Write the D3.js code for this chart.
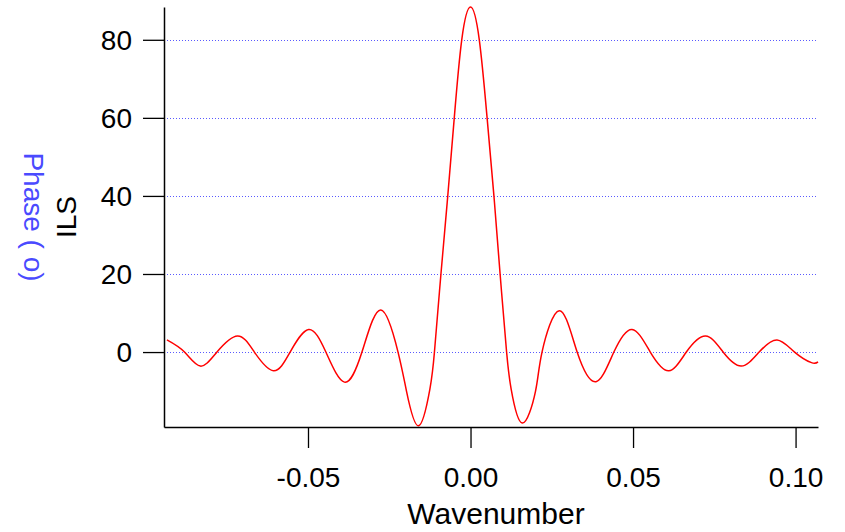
<!DOCTYPE html>
<html>
<head>
<meta charset="utf-8">
<script src="https://cdn.jsdelivr.net/npm/d3@7"></script>
<style>
  html, body { margin: 0; padding: 0; background: #fff; }
  svg { display: block; font-family: "Liberation Sans", Arial, sans-serif; }
</style>
</head>
<body>
<svg id="chart" width="845" height="532"></svg>
<script>
// ---- data ----
const wavenumber = [
  -0.0934, -0.0880, -0.0831, -0.0780, -0.0717, -0.0665, -0.0606, -0.0555,
  -0.0498, -0.0445, -0.0388, -0.0334, -0.0276, -0.0223, -0.0197, -0.0160,
  -0.0125, -0.0111, -0.0091, -0.0070, -0.0050, -0.0027, 0.0000,
  0.0027, 0.0051, 0.0072, 0.0091, 0.0111, 0.0125, 0.0159, 0.0200, 0.0220,
  0.0273, 0.0328, 0.0386, 0.0441, 0.0497, 0.0553, 0.0610, 0.0664,
  0.0723, 0.0777, 0.0833, 0.0888, 0.0943, 0.0997, 0.1049, 0.1069
];
const ils = [
  3.1, 0.0, -3.6, 0.0, 4.1, 0.0, -4.8, 0.0,
  5.8, 0.0, -7.7, 0.0, 10.8, 0.0, -10.0, -18.9,
  -9.5, 0.0, 20.0, 40.0, 60.0, 80.0, 88.4,
  80.0, 60.0, 40.0, 20.0, 0.0, -9.5, -18.2, -10.0, 0.0,
  10.6, 0.0, -7.6, 0.0, 5.8, 0.0, -4.8, 0.0,
  4.1, 0.0, -3.6, 0.0, 3.1, 0.0, -2.7, -2.5
];
const xTicks = [-0.05, 0.00, 0.05, 0.10];
const yTicks = [0, 20, 40, 60, 80];
const xDomain = [-0.0943, 0.1069];
const yDomain = [-19.2, 88.4];
const xTitle = "Wavenumber";
const yTitle = "ILS";
const y2Title = "Phase ( o)";

// ---- layout ----
const svg = d3.select("#chart");
const mLeft = 164, mRight = 818, mTop = 7, mBottom = 427;
const fontSize = 28;
const titleSize = 30;
const font = "Liberation Sans, Arial, sans-serif";

const x = d3.scaleLinear().domain(xDomain).range([mLeft, mRight]);
const y = d3.scaleLinear().domain(yDomain).range([mBottom, mTop]);

// gridlines
svg.append("g").selectAll("line").data(yTicks).join("line")
  .attr("x1", mLeft).attr("x2", mRight)
  .attr("y1", d => Math.round(y(d)) + 0.5).attr("y2", d => Math.round(y(d)) + 0.5)
  .attr("stroke", "#5a5aff").attr("stroke-width", 1)
  .attr("stroke-dasharray", "1,2");

// curve
const pts = wavenumber.map((w, i) => [w, ils[i]]);
svg.append("path").datum(pts)
  .attr("fill", "none").attr("stroke", "#ff0000").attr("stroke-width", 1.5)
  .attr("stroke-linejoin", "round")
  .attr("d", d3.line().x(d => x(d[0])).y(d => y(d[1])).curve(d3.curveNatural));

// x axis
const xAxis = d3.axisBottom(x).tickValues(xTicks).tickFormat(d => d.toFixed(2))
  .tickSize(21).tickSizeOuter(0).tickPadding(16);
const gx = svg.append("g").attr("transform", `translate(0,${mBottom})`).call(xAxis);
gx.select(".domain").attr("stroke", "#000").attr("stroke-width", 1.5);
gx.selectAll(".tick line").attr("stroke", "#000").attr("stroke-width", 1.3);
gx.selectAll(".tick text").attr("font-size", fontSize).attr("fill", "#000")
  .attr("font-family", font).attr("dy", null).attr("y", 60);

// y axis
const yAxis = d3.axisLeft(y).tickValues(yTicks).tickFormat(d => String(d))
  .tickSize(21).tickSizeOuter(0).tickPadding(11);
const gy = svg.append("g").attr("transform", `translate(${mLeft},0)`).call(yAxis);
gy.select(".domain").attr("stroke", "#000").attr("stroke-width", 1.5);
gy.selectAll(".tick line").attr("stroke", "#000").attr("stroke-width", 1.3);
gy.selectAll(".tick text").attr("font-size", fontSize).attr("fill", "#000")
  .attr("font-family", font).attr("dy", "0.35em");

// titles
svg.append("text").attr("x", 496).attr("y", 524)
  .attr("text-anchor", "middle").attr("font-size", titleSize).attr("fill", "#000")
  .attr("font-family", font).text(xTitle);

svg.append("text").attr("transform", `translate(76,${(mTop + mBottom) / 2}) rotate(-90)`)
  .attr("text-anchor", "middle").attr("font-size", fontSize).attr("fill", "#000")
  .attr("font-family", font).text(yTitle);

svg.append("text").attr("transform", `translate(24,${(mTop + mBottom) / 2}) rotate(90)`)
  .attr("text-anchor", "middle").attr("font-size", fontSize).attr("fill", "#4a4aff")
  .attr("font-family", font).text(y2Title);
</script>
</body>
</html>
